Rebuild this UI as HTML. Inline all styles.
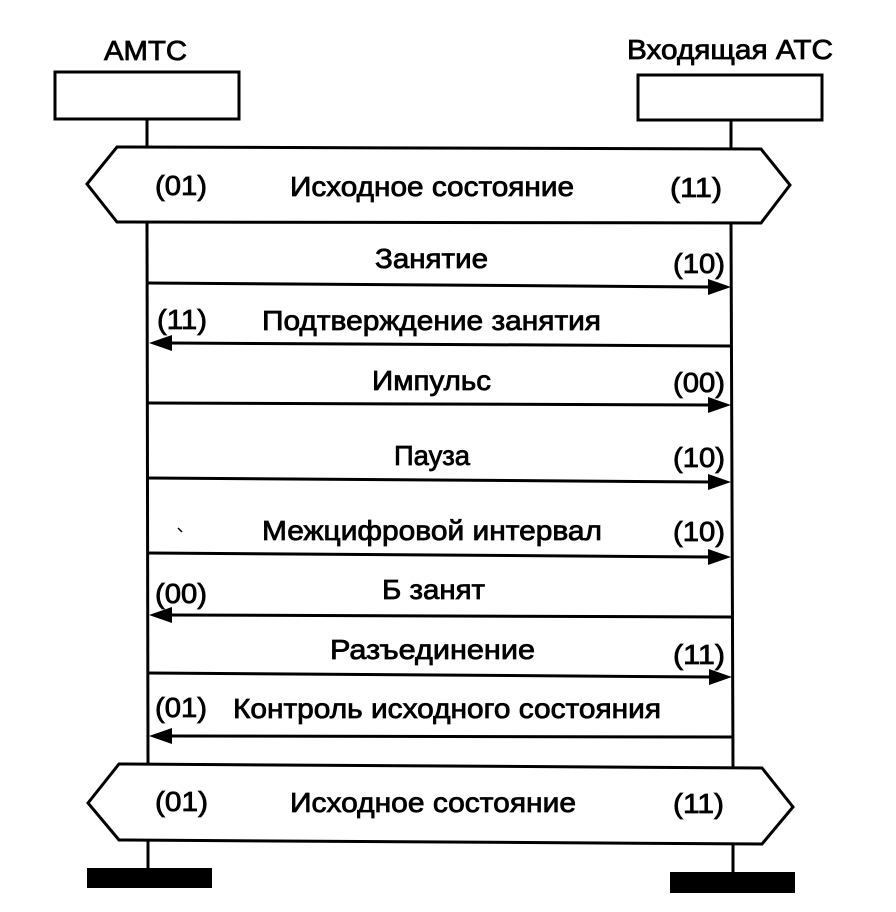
<!DOCTYPE html>
<html>
<head>
<meta charset="utf-8">
<style>
  html, body { margin: 0; padding: 0; background: #fff; }
  svg { display: block; }
  text { font-family: "Liberation Sans", "DejaVu Sans", sans-serif; font-size: 28px; fill: #000; stroke: #000; stroke-width: 0.8px; }
</style>
</head>
<body>
<svg width="896" height="912" viewBox="0 0 896 912" xmlns="http://www.w3.org/2000/svg">
  <rect x="0" y="0" width="896" height="912" fill="#fff"/>

  <!-- Headers -->
  <text x="104" y="60" textLength="83" lengthAdjust="spacingAndGlyphs">АМТС</text>
  <text x="627" y="59" textLength="206" lengthAdjust="spacingAndGlyphs">Входящая АТС</text>

  <!-- Boxes -->
  <rect x="55" y="72" width="184" height="47" fill="#fff" stroke="#000" stroke-width="3"/>
  <rect x="638" y="75" width="184" height="45" fill="#fff" stroke="#000" stroke-width="3"/>

  <!-- Lifelines -->
  <g stroke="#000" stroke-width="3" fill="none">
    <line x1="147" y1="119" x2="147" y2="147"/>
    <line x1="147" y1="222" x2="148" y2="764"/>
    <line x1="148" y1="840" x2="148" y2="868"/>
    <line x1="731" y1="120" x2="731" y2="149"/>
    <line x1="731" y1="223" x2="733" y2="768"/>
    <line x1="733" y1="844" x2="733" y2="872"/>
  </g>

  <!-- Top hexagon -->
  <polygon points="87,184 117,147 761,149 790,185 761,223 117,222" fill="#fff" stroke="#000" stroke-width="3" stroke-linejoin="miter"/>
  <text x="155" y="195" textLength="52" lengthAdjust="spacingAndGlyphs">(01)</text>
  <text x="290" y="196" textLength="284" lengthAdjust="spacingAndGlyphs">Исходное состояние</text>
  <text x="670" y="197" textLength="52" lengthAdjust="spacingAndGlyphs">(11)</text>

  <!-- Bottom hexagon -->
  <polygon points="88,803 119,764 762,768 793,807 762,844 119,840" fill="#fff" stroke="#000" stroke-width="3" stroke-linejoin="miter"/>
  <text x="155" y="811" textLength="53" lengthAdjust="spacingAndGlyphs">(01)</text>
  <text x="290" y="812" textLength="286" lengthAdjust="spacingAndGlyphs">Исходное состояние</text>
  <text x="673" y="813" textLength="51" lengthAdjust="spacingAndGlyphs">(11)</text>

  <!-- Terminators -->
  <rect x="87" y="868" width="125" height="20" fill="#000"/>
  <rect x="670" y="872" width="125" height="21" fill="#000"/>

  <!-- Messages -->
  <g stroke="#000" stroke-width="3" fill="none">
    <line x1="148" y1="283" x2="712" y2="287"/>
    <line x1="168" y1="343" x2="731" y2="346"/>
    <line x1="148" y1="403" x2="712" y2="405"/>
    <line x1="148" y1="478" x2="712" y2="482"/>
    <line x1="148" y1="553" x2="712" y2="557"/>
    <line x1="168" y1="615" x2="732" y2="617"/>
    <line x1="148" y1="673" x2="712" y2="677"/>
    <line x1="168" y1="736" x2="732" y2="737"/>
  </g>
  <g fill="#000" stroke="none">
    <!-- right-pointing heads -->
    <polygon points="731,287 708,279 708,295"/>
    <polygon points="731,405 708,397 708,413"/>
    <polygon points="731,482 708,474 708,490"/>
    <polygon points="731,557 708,549 708,565"/>
    <polygon points="732,677 709,669 709,685"/>
    <!-- left-pointing heads -->
    <polygon points="149,343 172,335 172,351"/>
    <polygon points="149,615 172,607 172,623"/>
    <polygon points="149,736 172,728 172,744"/>
  </g>

  <!-- Message labels -->
  <text x="375" y="268" textLength="113" lengthAdjust="spacingAndGlyphs">Занятие</text>
  <text x="673" y="273" textLength="52" lengthAdjust="spacingAndGlyphs">(10)</text>

  <text x="157" y="329" textLength="50" lengthAdjust="spacingAndGlyphs">(11)</text>
  <text x="262" y="330" textLength="339" lengthAdjust="spacingAndGlyphs">Подтверждение занятия</text>

  <text x="372" y="390" textLength="119" lengthAdjust="spacingAndGlyphs">Импульс</text>
  <text x="673" y="392" textLength="52" lengthAdjust="spacingAndGlyphs">(00)</text>

  <text x="394" y="465" textLength="76" lengthAdjust="spacingAndGlyphs">Пауза</text>
  <text x="673" y="467" textLength="52" lengthAdjust="spacingAndGlyphs">(10)</text>

  <text x="262" y="540" textLength="340" lengthAdjust="spacingAndGlyphs">Межцифровой интервал</text>
  <text x="673" y="541" textLength="52" lengthAdjust="spacingAndGlyphs">(10)</text>
  <line x1="178" y1="528" x2="182" y2="532" stroke="#000" stroke-width="1.5"/>

  <text x="155" y="603" textLength="52" lengthAdjust="spacingAndGlyphs">(00)</text>
  <text x="382" y="599" textLength="103" lengthAdjust="spacingAndGlyphs">Б занят</text>

  <text x="330" y="659" textLength="205" lengthAdjust="spacingAndGlyphs">Разъединение</text>
  <text x="673" y="664" textLength="52" lengthAdjust="spacingAndGlyphs">(11)</text>

  <text x="155" y="717" textLength="52" lengthAdjust="spacingAndGlyphs">(01)</text>
  <text x="233" y="718" textLength="428" lengthAdjust="spacingAndGlyphs">Контроль исходного состояния</text>
</svg>
</body>
</html>
